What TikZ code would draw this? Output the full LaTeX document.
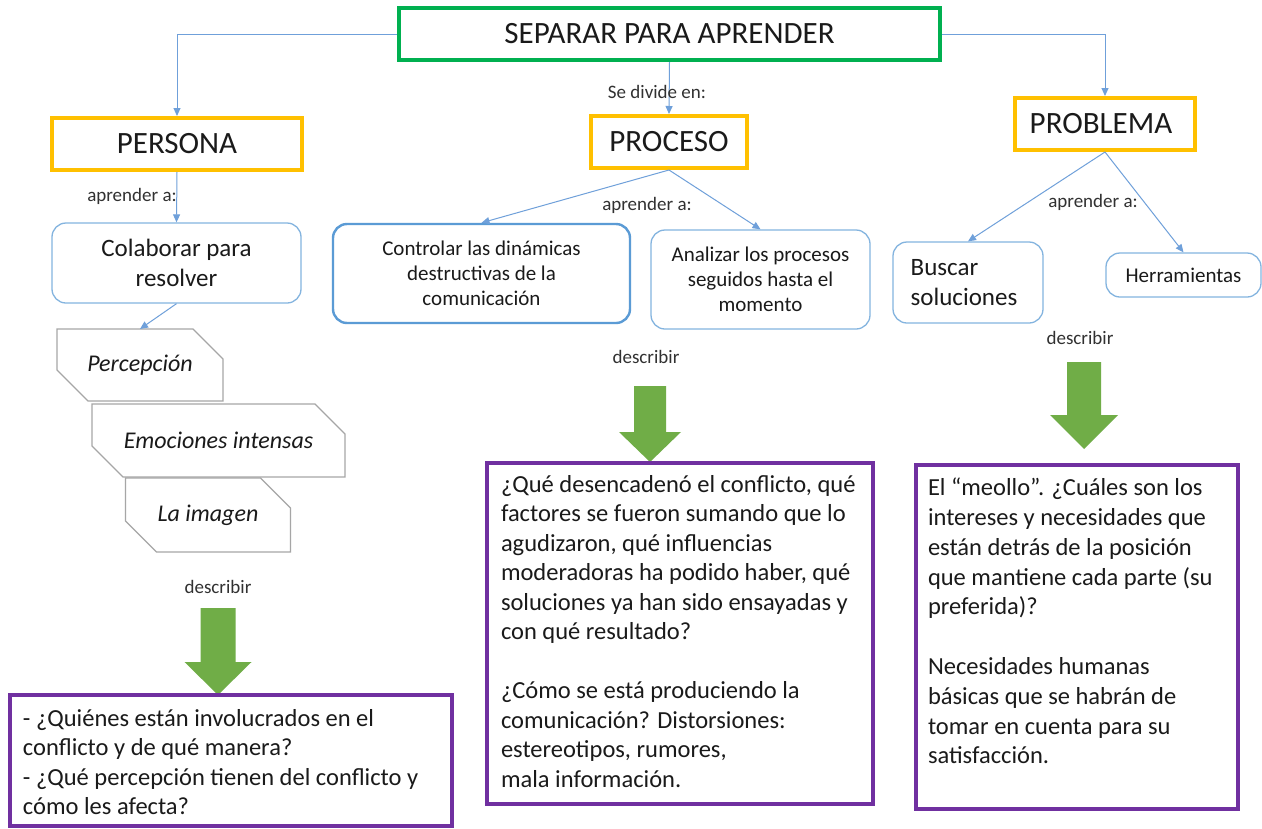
\documentclass[tikz,border=0pt]{standalone}
\usepackage{fontspec}
\setmainfont{Carlito}
\usetikzlibrary{arrows.meta}
\definecolor{titlegreen}{HTML}{00B050}
\definecolor{gold}{HTML}{FFC000}
\definecolor{linkblue}{HTML}{6FA0DA}
\definecolor{boxblue}{HTML}{5B9BD5}
\definecolor{facetgray}{HTML}{A6A6A6}
\definecolor{qpurple}{HTML}{7030A0}
\definecolor{arrowgreen}{HTML}{70AD47}
\definecolor{ink}{HTML}{1A1A1A}
\tikzset{
    rootnode/.style = {shape=rectangle, draw=titlegreen, line width=4pt,
        minimum width=541pt, minimum height=52pt,
        font=\fontsize{31}{36}\selectfont},
    area/.style     = {shape=rectangle, draw=gold, line width=4pt,
        minimum height=52pt, font=\fontsize{31}{36}\selectfont},
    task/.style     = {shape=rectangle, rounded corners=14pt, align=center,
        draw=boxblue!75, line width=1.3pt,
        font=\fontsize{21}{25}\selectfont},
    bigtask/.style  = {task, font=\fontsize{25}{30}\selectfont},
    facet/.style    = {shape=rectangle, outer sep=0pt,
        font=\fontsize{24}{28}\selectfont\itshape},
    facetline/.style = {draw=facetgray, line width=1.2pt},
    question/.style = {shape=rectangle, draw=qpurple, line width=4pt,
        inner xsep=13pt, font=\fontsize{24.5}{29.5}\selectfont},
    tag/.style      = {font=\fontsize{19}{22}\selectfont, text=ink!90},
    link/.style     = {draw=linkblue, line width=1pt,
        -{Triangle[length=8pt,width=7pt]}},
    blockarrow/.style = {fill=arrowgreen}
}
\begin{document}
\begin{tikzpicture}
            [
            x = 1pt,
            y = -1pt,
            every node/.style = {text=ink}
            ]
            \fill[white] (0,0) rectangle (1262,828);
            \useasboundingbox (0,0) rectangle (1262,828);
            \node[rootnode] (root) at (669.5,34) {SEPARAR PARA APRENDER};
            \node[area, minimum width=250pt] (persona) at (177,144) {PERSONA};
            \node[area, minimum width=156pt] (proceso) at (669,142) {PROCESO};
            \node[area, minimum width=180pt] (problema) at (1105,124) {PROBLEMA\hspace*{8pt}};
            \draw[link] (root.west) -| (persona.north);
            \draw[link] (root.south) -- (proceso.north);
            \draw[link] (root.east) -| (problema.north);
            \node[tag] (divide) at (657,92) {Se divide en:};

            \node[bigtask, minimum width=249pt, minimum height=80pt] (colabora) at (176.5,263) {Colaborar para\\resolver};
            \node[task, minimum width=297pt, minimum height=99pt, draw=boxblue, line width=2.4pt] (controla) at (481.5,273.5) {Controlar las dinámicas\\destructivas de la\\comunicación};
            \node[task, minimum width=219pt, minimum height=99pt] (analiza) at (760.5,279.5) {Analizar los procesos\\seguidos hasta el\\momento};
            \node[bigtask, align=left, minimum width=150pt, minimum height=81pt] (busca) at (968,282.5) {Buscar\\soluciones\hspace*{8pt}};
            \node[task, minimum width=155pt, minimum height=44pt] (herram) at (1183.5,275) {Herramientas};
            \draw[link] (persona.south) -- (colabora.north);
            \draw[link] (proceso.south) -- (controla.north);
            \draw[link] (proceso.south) -- (analiza.north);
            \draw[link] (problema.south) -- (busca.north);
            \draw[link] (problema.south) -- (herram.north);
            \node[tag] (aprpersona) at (132,196) {aprender a:};
            \node[tag] (aprproceso) at (647,205) {aprender a:};
            \node[tag] (aprproblema) at (1093,202) {aprender a:};

            \node[facet, minimum width=166pt, minimum height=72pt] (percep) at (140,365) {Percepción};
            \node[facet, minimum width=253pt, minimum height=73pt] (emocion) at (218.5,440.5) {Emociones intensas};
            \node[facet, minimum width=165pt, minimum height=74pt] (imagen) at (208,515) {La imagen};
            \foreach \f in {percep,emocion,imagen}
                \draw[facetline] (\f.north west) -- ([xshift=-30pt]\f.north east) -- ([yshift=-30pt]\f.north east)
                    -- (\f.south east) -- ([xshift=31pt]\f.south west) -- ([yshift=31pt]\f.south west) -- cycle;
            \draw[link] (colabora.south) -- (percep.north);

            \node[tag] (descpersona) at (218,587) {describir};
            \node[tag] (descproceso) at (646,357) {describir};
            \node[tag] (descproblema) at (1080,338) {describir};
            \foreach \cx/\ytop/\yneck/\ytip/\sw/\hw in {218/608/662/695/17.5/33.5, 650/386/432/462/16/31, 1084/362/415/449/17/34}
                \fill[blockarrow] (\cx-\sw,\ytop) -- (\cx+\sw,\ytop) -- (\cx+\sw,\yneck) -- (\cx+\hw,\yneck)
                    -- (\cx,\ytip) -- (\cx-\hw,\yneck) -- (\cx-\sw,\yneck) -- cycle;

            \node[question, inner ysep=6pt] (qpersona) at (231,760.5) {\parbox[c][119pt][t]{416pt}{\raggedright
                \vspace*{8pt}
                - ¿Quiénes están involucrados en el\\
                conflicto y de qué manera?\\
                - ¿Qué percepción tienen del conflicto y\\
                cómo les afecta?}};
            \node[question, inner xsep=14pt, inner ysep=10pt] (qproceso) at (680,633.5) {\parbox[c][321pt][t]{358pt}{\raggedright
                \vspace*{2pt}
                ¿Qué desencadenó el conflicto, qué\\
                factores se fueron sumando que lo\\
                agudizaron, qué influencias\\
                moderadoras ha podido haber, qué\\
                soluciones ya han sido ensayadas y\\
                con qué resultado?\\[29.5pt]
                ¿Cómo se está produciendo la\\
                comunicación? Distorsiones:\\
                estereotipos, rumores,\\
                mala información.}};
            \node[question, inner xsep=12pt, inner ysep=4pt] (qproblema) at (1077,637) {\parbox[c][336pt][t]{298pt}{\fontsize{24.5}{29.8}\selectfont\raggedright
                \vspace*{9pt}
                El “meollo”. ¿Cuáles son los\\
                intereses y necesidades que\\
                están detrás de la posición\\
                que mantiene cada parte (su\\
                preferida)?\\[29.8pt]
                Necesidades humanas\\
                básicas que se habrán de\\
                tomar en cuenta para su\\
                satisfacción.}};
    \end{tikzpicture}
\end{document}
